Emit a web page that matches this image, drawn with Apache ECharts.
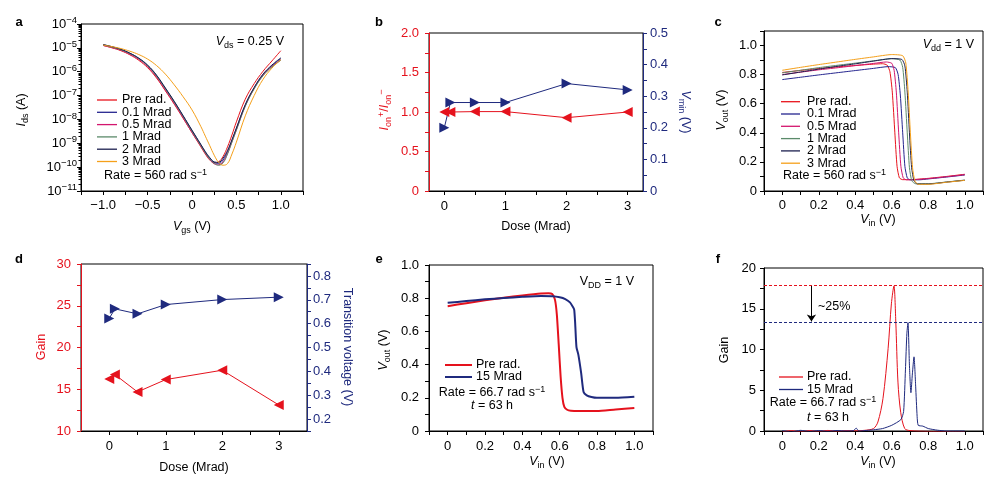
<!DOCTYPE html>
<html><head><meta charset="utf-8">
<script src="https://cdn.jsdelivr.net/npm/echarts@6/dist/echarts.min.js"></script>
<style>html,body{margin:0;padding:0;background:#fff}#c{width:998px;height:480px}</style>
</head><body><div id="c"></div>
<script>
// ---------- DATA ----------
// Panel a: Ids (log10 A) vs Vgs
const vgs = [-1.0,-0.9,-0.8,-0.7,-0.6,-0.5,-0.4,-0.3,-0.2,-0.1,0,0.1,0.15,0.2,0.25,0.3,0.35,0.4,0.45,0.5,0.6,0.7,0.8,0.9,1.0];
const idsPre = [-4.9,-5.0,-5.12,-5.29,-5.52,-5.83,-6.26,-6.8,-7.36,-7.95,-8.55,-9.15,-9.45,-9.7,-9.82,-9.78,-9.55,-9.15,-8.65,-8.1,-7.15,-6.5,-5.98,-5.55,-5.12];
const ids01 = [-4.87,-4.96,-5.07,-5.23,-5.44,-5.74,-6.16,-6.7,-7.26,-7.86,-8.47,-9.07,-9.37,-9.63,-9.8,-9.85,-9.7,-9.35,-8.88,-8.38,-7.4,-6.68,-6.12,-5.75,-5.45];
const ids05 = [-4.9,-4.99,-5.1,-5.27,-5.48,-5.79,-6.22,-6.77,-7.33,-7.93,-8.55,-9.12,-9.42,-9.68,-9.86,-9.9,-9.78,-9.42,-8.93,-8.43,-7.43,-6.7,-6.15,-5.78,-5.5];
const ids1 = [-4.88,-4.97,-5.08,-5.24,-5.45,-5.75,-6.18,-6.72,-7.28,-7.88,-8.5,-9.1,-9.4,-9.66,-9.84,-9.92,-9.82,-9.45,-8.95,-8.45,-7.45,-6.72,-6.17,-5.8,-5.52];
const ids2 = [-4.86,-4.95,-5.06,-5.22,-5.43,-5.72,-6.14,-6.68,-7.24,-7.84,-8.45,-9.05,-9.35,-9.6,-9.78,-9.8,-9.62,-9.3,-8.85,-8.36,-7.38,-6.66,-6.1,-5.72,-5.42];
const ids3 = [-4.88,-4.95,-5.03,-5.14,-5.28,-5.47,-5.74,-6.1,-6.55,-7.05,-7.6,-8.3,-8.7,-9.1,-9.5,-9.8,-9.92,-9.85,-9.45,-8.95,-7.85,-7.0,-6.32,-5.85,-5.5];

// Panels b, d: dose dependence
const doses = [0, 0.1, 0.5, 1, 2, 3];
const ionRatio = [1.0, 1.0, 1.005, 1.005, 0.928, 1.0];
const vmin = [0.20, 0.28, 0.28, 0.28, 0.34, 0.32];
const gain = [16.24, 16.76, 14.68, 16.16, 17.28, 13.12];
const transV = [0.622, 0.662, 0.641, 0.68, 0.701, 0.711];

// Panel c: VTC [Vin, Vout]
const vtcPre = [[0,0.815],[0.1,0.829],[0.2,0.842],[0.3,0.853],[0.4,0.863],[0.5,0.872],[0.55,0.875],[0.575,0.865],[0.59,0.82],[0.603,0.68],[0.617,0.4],[0.629,0.17],[0.642,0.09],[0.66,0.078],[0.7,0.078],[0.8,0.087],[0.9,0.1],[1.0,0.115]];
const vtc01 = [[0,0.766],[0.1,0.782],[0.2,0.798],[0.3,0.813],[0.4,0.828],[0.5,0.843],[0.58,0.855],[0.62,0.848],[0.635,0.8],[0.647,0.66],[0.66,0.4],[0.672,0.17],[0.685,0.09],[0.7,0.077],[0.75,0.077],[0.8,0.083],[0.9,0.096],[1.0,0.11]];
const vtc05 = [[0,0.8],[0.1,0.817],[0.2,0.833],[0.3,0.847],[0.4,0.862],[0.5,0.877],[0.57,0.887],[0.6,0.878],[0.613,0.83],[0.625,0.68],[0.638,0.4],[0.65,0.17],[0.663,0.09],[0.68,0.077],[0.7,0.077],[0.8,0.085],[0.9,0.098],[1.0,0.112]];
const vtc1 = [[0,0.812],[0.1,0.83],[0.2,0.848],[0.3,0.864],[0.4,0.879],[0.5,0.895],[0.6,0.91],[0.645,0.9],[0.66,0.85],[0.672,0.68],[0.685,0.4],[0.697,0.16],[0.71,0.07],[0.73,0.05],[0.8,0.05],[0.9,0.062],[1.0,0.075]];
const vtc2 = [[0,0.798],[0.1,0.818],[0.2,0.838],[0.3,0.857],[0.4,0.874],[0.5,0.893],[0.6,0.91],[0.655,0.905],[0.672,0.86],[0.685,0.68],[0.697,0.4],[0.709,0.16],[0.722,0.07],[0.74,0.048],[0.8,0.048],[0.9,0.061],[1.0,0.074]];
const vtc3 = [[0,0.83],[0.1,0.85],[0.2,0.869],[0.3,0.887],[0.4,0.905],[0.5,0.922],[0.6,0.938],[0.66,0.93],[0.677,0.88],[0.69,0.68],[0.702,0.4],[0.714,0.16],[0.727,0.068],[0.745,0.046],[0.8,0.046],[0.9,0.06],[1.0,0.073]];

// Panel e: VTC pre rad vs 15 Mrad
const ePre = [[0,0.752],[0.1,0.77],[0.2,0.787],[0.3,0.803],[0.4,0.817],[0.5,0.829],[0.54,0.83],[0.56,0.825],[0.575,0.79],[0.585,0.7],[0.595,0.52],[0.605,0.33],[0.615,0.2],[0.625,0.145],[0.64,0.128],[0.66,0.122],[0.7,0.12],[0.8,0.121],[0.9,0.13],[1.0,0.138]];
const e15 = [[0,0.772],[0.1,0.783],[0.2,0.793],[0.3,0.801],[0.4,0.808],[0.5,0.813],[0.56,0.812],[0.6,0.806],[0.63,0.795],[0.655,0.775],[0.672,0.745],[0.678,0.73],[0.683,0.65],[0.69,0.505],[0.7,0.46],[0.715,0.35],[0.728,0.235],[0.745,0.215],[0.77,0.205],[0.8,0.2],[0.9,0.2],[1.0,0.207]];

// Panel f: gain vs Vin
const fPre = [[0,-0.1],[0.05,0.05],[0.1,-0.08],[0.15,0.06],[0.2,-0.05],[0.25,0.07],[0.3,-0.04],[0.35,0.05],[0.4,0.02],[0.45,0.08],[0.5,0.3],[0.524,1.1],[0.552,4.0],[0.58,10.1],[0.598,15.6],[0.612,17.8],[0.622,13.5],[0.634,6.0],[0.649,2.3],[0.671,0.3],[0.7,0.05],[0.8,-0.05],[0.9,-0.08],[1.0,-0.1]];
const f15 = [[0,0.05],[0.05,-0.1],[0.1,0.08],[0.15,-0.06],[0.2,0.06],[0.25,-0.05],[0.3,0.06],[0.35,0.0],[0.39,0.05],[0.405,0.35],[0.42,0.0],[0.5,0.15],[0.55,0.3],[0.6,0.7],[0.65,1.4],[0.665,2.4],[0.675,7.5],[0.683,12],[0.689,13.3],[0.697,8],[0.705,4.7],[0.713,7.0],[0.722,9.1],[0.731,5.5],[0.739,1.8],[0.745,0.7],[0.77,0.6],[0.8,0.3],[0.85,0.1],[0.9,0.0],[1.0,0.0]];
const fPreMax = 17.9, f15Max = 13.3;
const arrowX = 0.16;

// Ticks and labels
const aXTicks = [-1.25,-1,-0.75,-0.5,-0.25,0,0.25,0.5,0.75,1,1.25];
const aXLabels = [-1,-0.5,0,0.5,1];
const aYTicks = [-11,-10,-9,-8,-7,-6,-5,-4];
const doseTicks = [0,0.5,1,1.5,2,2.5,3];
const doseLabels = [0,1,2,3];
const bLTicks = [0,0.25,0.5,0.75,1,1.25,1.5,1.75,2];
const bLLabels = [0,0.5,1,1.5,2];
const bRTicks = [0,0.05,0.1,0.15,0.2,0.25,0.3,0.35,0.4,0.45,0.5];
const bRLabels = [0,0.1,0.2,0.3,0.4,0.5];
const vinTicks = [-0.1,0,0.1,0.2,0.3,0.4,0.5,0.6,0.7,0.8,0.9,1.0,1.1];
const vinLabels = [0,0.2,0.4,0.6,0.8,1.0];
const cYTicks = [0,0.1,0.2,0.3,0.4,0.5,0.6,0.7,0.8,0.9,1.0,1.1];
const eYTicks = [0,0.1,0.2,0.3,0.4,0.5,0.6,0.7,0.8,0.9,1.0];
const unitLabels = [0,0.2,0.4,0.6,0.8,1.0];
const dLTicks = [10,12.5,15,17.5,20,22.5,25,27.5,30];
const dLLabels = [10,15,20,25,30];
const dRTicks = [0.15,0.2,0.25,0.3,0.35,0.4,0.45,0.5,0.55,0.6,0.65,0.7,0.75,0.8,0.85];
const dRLabels = [0.2,0.3,0.4,0.5,0.6,0.7,0.8];
const fYTicks = [0,2.5,5,7.5,10,12.5,15,17.5,20];
const fYLabels = [0,5,10,15,20];
const legendA = ['Pre rad.','0.1 Mrad','0.5 Mrad','1 Mrad','2 Mrad','3 Mrad'];
const legendE = ['Pre rad.','15 Mrad'];

// ---------- STYLE ----------
const FONT = '"Liberation Sans", Arial, Helvetica, sans-serif';
const RED = '#e5121d', NAVY = '#1f2a7e';
const C6 = ['#e8141c','#25258f','#d3166e','#5b8a6a','#1c1f4f','#f5a01a'];
const TICKFS = 13;

const minorA = [];
for (let n = -11; n < -4; n++) for (let k = 2; k <= 9; k++) minorA.push(n + Math.log10(k));

const f1 = v => v === 0 ? '0' : (v < 0 ? '\u2212' + Math.abs(v).toFixed(1) : v.toFixed(1));
const fi = v => String(v);

function xAx(grid, min, max, ticks, labels, fmt, margin, extra) {
  return Object.assign({
    gridIndex: grid, type: 'value', min, max,
    axisLine: {show: true, onZero: false, lineStyle: {color: '#000', width: 1}},
    axisTick: {show: true, length: 4, customValues: ticks, lineStyle: {color: '#000'}},
    axisLabel: {customValues: labels, formatter: fmt, margin, color: '#000', fontSize: TICKFS, fontFamily: FONT},
    splitLine: {show: false}
  }, extra || {});
}
function yAx(grid, min, max, ticks, labels, fmt, margin, color, pos, extra) {
  return Object.assign({
    gridIndex: grid, type: 'value', min, max, position: pos || 'left',
    axisLine: {show: true, onZero: false, lineStyle: {color, width: 1}},
    axisTick: {show: true, length: 4, customValues: ticks, lineStyle: {color}},
    axisLabel: {customValues: labels, formatter: fmt, margin, color, fontSize: TICKFS, fontFamily: FONT},
    splitLine: {show: false}
  }, extra || {});
}

const gridBase = {show: true, borderColor: '#000', borderWidth: 1, backgroundColor: 'transparent', containLabel: false, outerBoundsMode: 'none'};
const grids = [
  Object.assign({left: 81, top: 24, width: 222, height: 167}, gridBase),
  Object.assign({left: 429, top: 33, width: 214, height: 158}, gridBase),
  Object.assign({left: 764, top: 31, width: 219, height: 160}, gridBase),
  Object.assign({left: 81, top: 264, width: 226, height: 167}, gridBase),
  Object.assign({left: 429, top: 265, width: 224, height: 166}, gridBase),
  Object.assign({left: 764, top: 268, width: 219, height: 163}, gridBase)
];

const xAxes = [
  xAx(0, -1.25, 1.25, aXTicks, aXLabels, f1, 8),
  xAx(1, -0.25, 3.25, doseTicks, doseLabels, fi, 9),
  xAx(2, -0.1, 1.1, vinTicks, vinLabels, f1, 8),
  xAx(3, -0.5, 3.5, doseTicks, doseLabels, fi, 9),
  xAx(4, -0.1, 1.1, vinTicks, vinLabels, f1, 9),
  xAx(5, -0.1, 1.1, vinTicks, vinLabels, f1, 9)
];
const supRich = {
  m: {fontSize: 13, lineHeight: 17, fontFamily: FONT, color: '#000'},
  sup: {fontSize: 9.5, lineHeight: 11, verticalAlign: 'top', fontFamily: FONT, color: '#000'}
};
const yAxes = [
  yAx(0, -11, -4, aYTicks, aYTicks, v => '{m|10}{sup|\u2212' + Math.abs(v) + '}', 4, '#000', 'left'),
  {gridIndex: 0, type: 'value', min: -11, max: -4, position: 'left',
   axisLine: {show: false, onZero: false}, axisLabel: {show: false}, splitLine: {show: false},
   axisTick: {show: true, length: 2.5, customValues: minorA, lineStyle: {color: '#000'}}},
  yAx(1, 0, 2, bLTicks, bLLabels, f1, 10, RED, 'left'),
  yAx(1, 0, 0.5, bRTicks, bRLabels, f1, 7, NAVY, 'right'),
  yAx(2, 0, 1.1, cYTicks, unitLabels, f1, 7, '#000', 'left'),
  yAx(3, 10, 30, dLTicks, dLLabels, fi, 10, RED, 'left'),
  yAx(3, 0.15, 0.85, dRTicks, dRLabels, f1, 6, NAVY, 'right'),
  yAx(4, 0, 1.0, eYTicks, unitLabels, f1, 10, '#000', 'left'),
  yAx(5, 0, 20, fYTicks, fYLabels, fi, 8, '#000', 'left')
];
yAxes[0].axisLabel.rich = supRich;

function line(name, xi, yi, data, color, width, extra) {
  return Object.assign({
    name, type: 'line', xAxisIndex: xi, yAxisIndex: yi, data, showSymbol: false, symbol: 'none',
    smooth: 0.25, lineStyle: {color, width: width || 1}, itemStyle: {color}, animation: false, silent: true
  }, extra || {});
}
const series = [];
[idsPre, ids01, ids05, ids1, ids2, ids3].forEach((arr, k) => {
  series.push(line(legendA[k], 0, 0, vgs.map((v, i) => [v, arr[i]]), C6[k], 1, {smooth: 0.4}));
});
series.push({name: 'Ion ratio', type: 'line', xAxisIndex: 1, yAxisIndex: 2, data: doses.map((d, i) => [d, ionRatio[i]]),
  symbol: 'triangle', symbolSize: 10, symbolRotate: 90, lineStyle: {color: RED, width: 1}, itemStyle: {color: RED}, animation: false});
series.push({name: 'Vmin', type: 'line', xAxisIndex: 1, yAxisIndex: 3, data: doses.map((d, i) => [d, vmin[i]]),
  symbol: 'triangle', symbolSize: 10, symbolRotate: -90, lineStyle: {color: NAVY, width: 1}, itemStyle: {color: NAVY}, animation: false});
[vtcPre, vtc01, vtc05, vtc1, vtc2, vtc3].forEach((arr, k) => {
  series.push(line(legendA[k] + ' c', 2, 4, arr, C6[k], 1, {smooth: 0.2}));
});
series.push({name: 'Gain', type: 'line', xAxisIndex: 3, yAxisIndex: 5, data: doses.map((d, i) => [d, gain[i]]),
  symbol: 'triangle', symbolSize: 10, symbolRotate: 90, lineStyle: {color: RED, width: 1}, itemStyle: {color: RED}, animation: false});
series.push({name: 'Transition voltage', type: 'line', xAxisIndex: 3, yAxisIndex: 6, data: doses.map((d, i) => [d, transV[i]]),
  symbol: 'triangle', symbolSize: 10, symbolRotate: -90, lineStyle: {color: NAVY, width: 1}, itemStyle: {color: NAVY}, animation: false});
series.push(line('Pre rad. e', 4, 7, ePre, RED, 2, {smooth: 0.2}));
series.push(line('15 Mrad e', 4, 7, e15, NAVY, 2, {smooth: 0.2}));
series.push(line('Pre rad. f', 5, 8, fPre, RED, 1, {smooth: 0.3,
  markLine: {silent: true, symbol: ['none', 'arrow'], symbolSize: 7, label: {show: false},
    lineStyle: {color: '#000', width: 1, type: 'solid'},
    data: [[{coord: [arrowX, fPreMax]}, {coord: [arrowX, f15Max + 0.15]}]]}}));
series.push(line('15 Mrad f', 5, 8, f15, NAVY, 1, {smooth: 0.2,
  markLine: {silent: true, symbol: 'none', label: {show: false}, lineStyle: {type: [3, 2], width: 1},
    data: [{yAxis: fPreMax, lineStyle: {color: RED}}, {yAxis: f15Max, lineStyle: {color: NAVY}}]}}));

// ---------- TEXT / LEGENDS ----------
const RICH = {
  n: {fontSize: 12.5, lineHeight: 16, fontFamily: FONT},
  i: {fontSize: 12.5, lineHeight: 16, fontStyle: 'italic', fontFamily: FONT},
  sub: {fontSize: 9, lineHeight: 9, verticalAlign: 'bottom', fontFamily: FONT},
  sup: {fontSize: 9, lineHeight: 10, verticalAlign: 'top', fontFamily: FONT},
  bold: {fontSize: 13, lineHeight: 16, fontWeight: 'bold', fontFamily: FONT}
};
function T(x, y, text, o) {
  o = o || {};
  return {type: 'text', x, y, rotation: o.rot || 0, z: 50, silent: true,
    style: {text, rich: RICH, fill: o.color || '#000', align: o.align || 'center', verticalAlign: 'middle', fontFamily: FONT, fontSize: 12}};
}
function L(x1, x2, y, color, w) {
  return {type: 'line', z: 50, silent: true, shape: {x1, y1: y, x2, y2: y}, style: {stroke: color, lineWidth: w || 1}};
}
const PI2 = Math.PI / 2;
const g = [
  T(19, 22, '{bold|a}'), T(379, 22, '{bold|b}'), T(718, 22, '{bold|c}'),
  T(19, 259, '{bold|d}'), T(379, 259, '{bold|e}'), T(718, 259, '{bold|f}'),
  // a
  T(22, 110, '{i|I}{sub|ds}{n| (A)}', {rot: PI2}),
  T(192, 227, '{i|V}{sub|gs}{n| (V)}'),
  T(284, 42, '{i|V}{sub|ds}{n| = 0.25 V}', {align: 'right'}),
  T(104, 176, '{n|Rate = 560 rad s}{sup|\u22121}', {align: 'left'}),
  // b
  T(385, 110, '{i|I}{sub|on}{sup|+}{n|/}{i|I}{sub|on}{sup|\u2212}', {rot: PI2, color: RED}),
  T(685, 112, '{i|V}{sub|min}{n| (V)}', {rot: -PI2, color: NAVY}),
  T(536, 227, '{n|Dose (Mrad)}'),
  // c
  T(722, 110, '{i|V}{sub|out}{n| (V)}', {rot: PI2}),
  T(878, 220, '{i|V}{sub|in}{n| (V)}'),
  T(974, 45, '{i|V}{sub|dd}{n| = 1 V}', {align: 'right'}),
  T(783, 176, '{n|Rate = 560 rad s}{sup|\u22121}', {align: 'left'}),
  // d
  T(42, 347, '{n|Gain}', {rot: PI2, color: RED}),
  T(347, 347, '{n|Transition voltage (V)}', {rot: -PI2, color: NAVY}),
  T(194, 468, '{n|Dose (Mrad)}'),
  // e
  T(384, 350, '{i|V}{sub|out}{n| (V)}', {rot: PI2}),
  T(547, 462, '{i|V}{sub|in}{n| (V)}'),
  T(634, 282, '{n|V}{sub|DD}{n| = 1 V}', {align: 'right'}),
  T(492, 393, '{n|Rate = 66.7 rad s}{sup|\u22121}'),
  T(492, 406, '{i|t}{n| = 63 h}'),
  // f
  T(725, 350, '{n|Gain}', {rot: PI2}),
  T(878, 462, '{i|V}{sub|in}{n| (V)}'),
  T(818, 307, '{n|~25%}', {align: 'left'}),
  T(823, 403, '{n|Rate = 66.7 rad s}{sup|\u22121}'),
  T(828, 418, '{i|t}{n| = 63 h}')
];
const rowsA = [100, 112.3, 124.6, 136.9, 149.2, 161.5];
const rowsC = [101.7, 114, 126.3, 138.6, 150.9, 163.2];
legendA.forEach((nm, k) => {
  g.push(L(97, 117, rowsA[k], C6[k], 1.3), T(122, rowsA[k], '{n|' + nm + '}', {align: 'left'}));
  g.push(L(781, 800, rowsC[k], C6[k], 1.3), T(807, rowsC[k], '{n|' + nm + '}', {align: 'left'}));
});
const rowsE = [365, 377], rowsF = [377, 389.5];
legendE.forEach((nm, k) => {
  const col = k === 0 ? RED : NAVY;
  g.push(L(445, 472, rowsE[k], col, 2), T(476, rowsE[k], '{n|' + nm + '}', {align: 'left'}));
  g.push(L(779, 803, rowsF[k], col, 1.3), T(807, rowsF[k], '{n|' + nm + '}', {align: 'left'}));
});

const chart = echarts.init(document.getElementById('c'), null, {renderer: 'canvas'});
chart.setOption({
  animation: false,
  backgroundColor: '#fff',
  textStyle: {fontFamily: FONT},
  grid: grids, xAxis: xAxes, yAxis: yAxes, series, graphic: g
});
</script></body></html>
